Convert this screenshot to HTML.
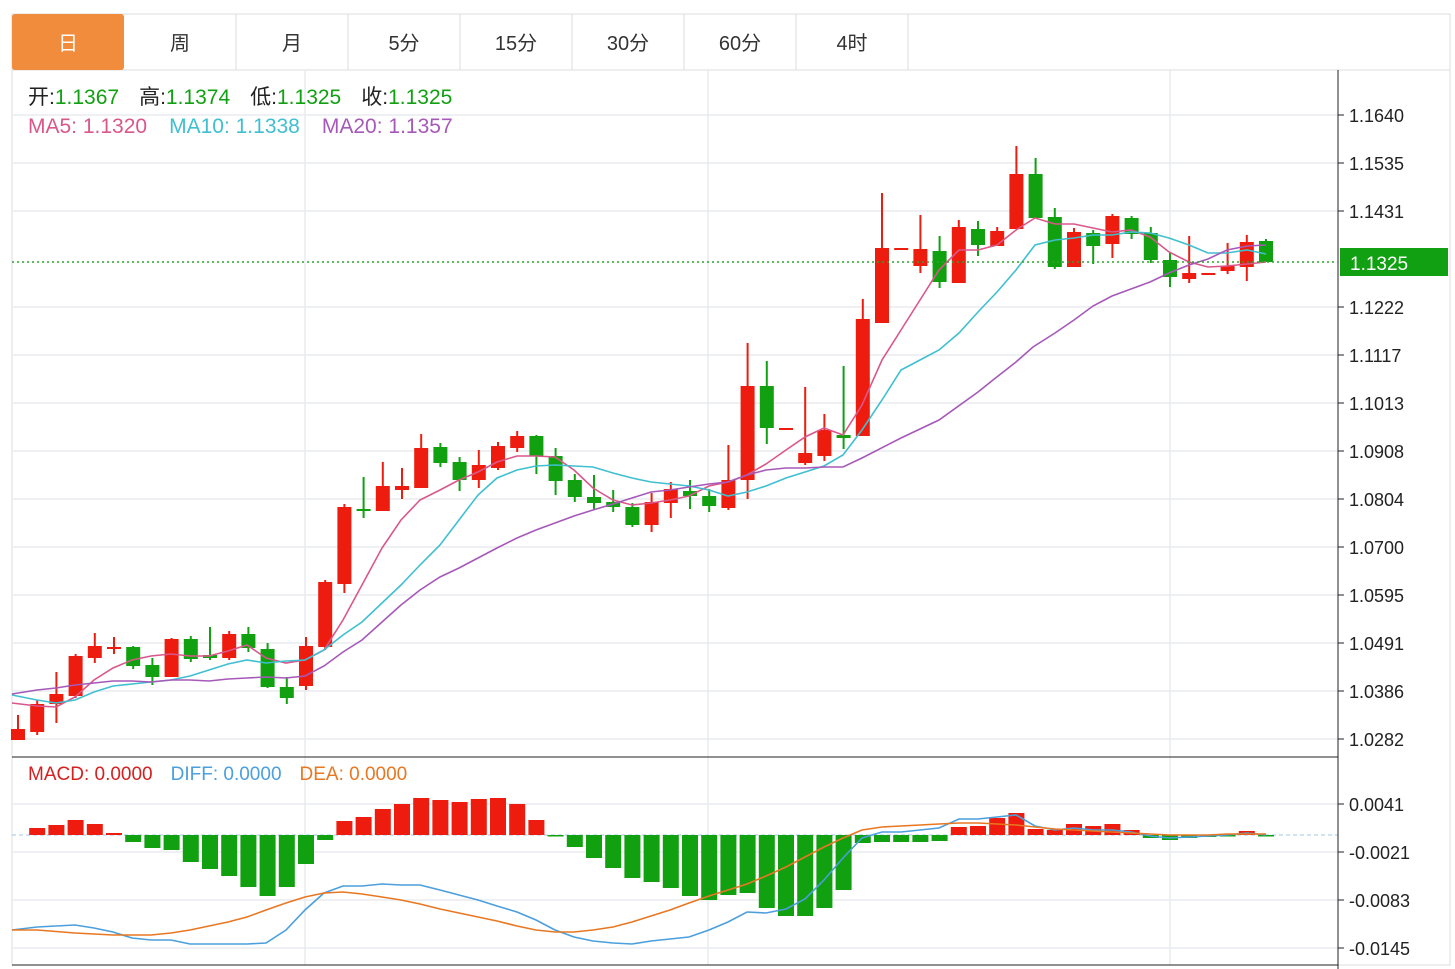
<!DOCTYPE html>
<html><head><meta charset="utf-8"><style>
html,body{margin:0;padding:0;background:#fff;}
body{width:1455px;height:969px;overflow:hidden;position:relative;font-family:"Liberation Sans","Noto Sans CJK SC",sans-serif;}
svg{position:absolute;left:0;top:0;}
</style></head><body>
<svg id="s" width="1455" height="969" xmlns="http://www.w3.org/2000/svg" font-family="Liberation Sans, Noto Sans CJK SC, sans-serif">
<rect x="12" y="14" width="1438" height="951" fill="#fff" stroke="#dcdcdc"/>
<line x1="12" y1="70" x2="1450" y2="70" stroke="#dcdcdc"/>
<rect x="12" y="14" width="112" height="56" rx="3" fill="#f08c3c"/>
<g stroke="#dcdcdc"><line x1="236" y1="14" x2="236" y2="70"/><line x1="348" y1="14" x2="348" y2="70"/><line x1="460" y1="14" x2="460" y2="70"/><line x1="572" y1="14" x2="572" y2="70"/><line x1="684" y1="14" x2="684" y2="70"/><line x1="796" y1="14" x2="796" y2="70"/><line x1="908" y1="14" x2="908" y2="70"/></g>
<g font-size="20" text-anchor="middle" fill="#333"><text x="68" y="50" fill="#fff">日</text><text x="180" y="50">周</text><text x="292" y="50">月</text><text x="404" y="50">5分</text><text x="516" y="50">15分</text><text x="628" y="50">30分</text><text x="740" y="50">60分</text><text x="852" y="50">4时</text></g>
<g id="grid" stroke="#e8ecf0" stroke-width="1.5"></g>
<g id="plot"></g>
<line x1="12" y1="757" x2="1338" y2="757" stroke="#222"/>
<line x1="12" y1="965" x2="1338" y2="965" stroke="#222"/>
<line x1="1338" y1="70" x2="1338" y2="969" stroke="#222"/>
<line x1="12" y1="262" x2="1338" y2="262" stroke="#2aa52a" stroke-width="1.5" stroke-dasharray="2,3"/>
<rect x="1340" y="248" width="108" height="28" fill="#11a011"/>
<text x="1350" y="270" font-size="19" fill="#fff">1.1325</text>
<g font-size="21"><text x="28" y="104"><tspan fill="#222">开:</tspan><tspan fill="#11a011">1.1367</tspan><tspan fill="#222" dx="20">高:</tspan><tspan fill="#11a011">1.1374</tspan><tspan fill="#222" dx="20">低:</tspan><tspan fill="#11a011">1.1325</tspan><tspan fill="#222" dx="20">收:</tspan><tspan fill="#11a011">1.1325</tspan></text>
<text x="28" y="133"><tspan fill="#d9578a">MA5:  1.1320</tspan><tspan fill="#3fbfd0" dx="22">MA10:  1.1338</tspan><tspan fill="#a659b8" dx="22">MA20:  1.1357</tspan></text>
<text x="28" y="780" font-size="19"><tspan fill="#d42020">MACD: 0.0000</tspan><tspan fill="#4a9fdc" dx="18">DIFF: 0.0000</tspan><tspan fill="#e87722" dx="18">DEA: 0.0000</tspan></text></g>
<g id="axis" font-size="18" fill="#222"></g>
</svg>
<script>
var ns="http://www.w3.org/2000/svg";
function el(p,t,a){var e=document.createElementNS(ns,t);for(var k in a)e.setAttribute(k,a[k]);document.getElementById(p).appendChild(e);return e;}
var py=[[115,"1.1640"],[163,"1.1535"],[211,"1.1431"],[307,"1.1222"],[355,"1.1117"],[403,"1.1013"],[451,"1.0908"],[499,"1.0804"],[547,"1.0700"],[595,"1.0595"],[643,"1.0491"],[691,"1.0386"],[739,"1.0282"]];
var my=[[804,"0.0041"],[852,"-0.0021"],[900,"-0.0083"],[948,"-0.0145"]];
py.concat(my).forEach(function(a){el("grid","line",{x1:12,y1:a[0],x2:1338,y2:a[0]});
 el("axis","line",{x1:1338,y1:a[0],x2:1344,y2:a[0],stroke:"#222"});
 var t=el("axis","text",{x:1349,y:a[0]+7});t.textContent=a[1];});
[305,708,1170].forEach(function(x){el("grid","line",{x1:x,y1:70,x2:x,y2:965});});
el("plot","line",{x1:12,y1:835,x2:1338,y2:835,stroke:"#9cc8e8","stroke-dasharray":"4,3"});
var C=[["R",729,740,715,740],["R",704,732,700,735],["R",694,704,672,723],["R",656,696,654,698],["R",646,658,633,663],["R",647,649,637,654],["G",647,666,646,669],["G",665,677,658,685],["R",639,677,638,677],["G",639,659,636,662],["G",655,658,627,660],["R",634,658,631,660],["G",634,648,627,652],["G",649,687,643,688],["G",687,698,677,704],["R",646,686,637,690],["R",582,647,580,650],["R",507,584,504,593],["G",509,511,477,518],["R",486,511,462,511],["R",486,490,468,499],["R",448,488,434,488],["G",447,463,443,467],["G",462,480,457,491],["R",465,480,450,488],["R",446,468,442,470],["R",436,448,431,452],["G",436,456,435,474],["G",456,481,448,495],["G",480,497,474,502],["G",497,503,475,510],["G",502,507,490,512],["G",507,525,503,527],["R",502,525,493,532],["R",489,503,482,518],["G",491,496,480,509],["G",496,506,489,512],["R",480,508,445,510],["R",386,480,343,499],["G",386,428,361,444],["R",428,430,428,430],["R",453,463,387,465],["R",430,456,414,461],["G",435,438,366,449],["R",319,436,299,436],["R",248,323,193,323],["R",248,250,248,250],["R",249,266,215,273],["G",251,282,236,288],["R",227,283,220,283],["G",229,245,221,256],["R",231,246,227,246],["R",174,229,146,229],["G",174,218,158,218],["G",217,267,208,269],["R",232,267,228,267],["G",233,246,230,264],["R",216,244,214,258],["G",218,234,216,239],["G",233,260,227,263],["G",260,277,253,287],["R",273,279,236,283],["R",273,275,273,275],["R",266,271,243,274],["R",242,267,235,281],["G",241,262,239,262]];
function X(i){return 18+19.2*i;}
C.forEach(function(c,i){var col=c[0]=="R"?"#ee1c0e":"#10a010",x=X(i);
 el("plot","line",{x1:x,y1:c[3],x2:x,y2:c[4],stroke:col,"stroke-width":2});
 el("plot","rect",{x:x-7,y:c[1],width:14,height:Math.max(2,c[2]-c[1]),fill:col});});
var M=[0,828,825,820,824,833,842,848,850,862,869,876,887,896,887,864,840,821,817,809,804,798,800,802,799,798,804,820,836,847,858,868,878,882,888,896,900,895,893,908,916,916,908,890,843,842,842,842,841,827,826,818,813,829,830,824,826,824,830,838,840,838,837,836,831,836];
M.forEach(function(v,i){if(!v)return;var x=X(i),up=v<835;
 el("plot","rect",{x:x-8,y:Math.min(v,835),width:16,height:Math.max(1.5,Math.abs(v-835)),fill:up?"#ee1c0e":"#10a010"});});
function line(pts,col){el("plot","polyline",{points:pts.map(function(p){return p.join(",")}).join(" "),fill:"none",stroke:col,"stroke-width":1.6});}
line([[12,703],[37,706],[56,707],[75,697],[94,680],[113,668],[132,660],[151,656],[171,654],[190,656],[209,656],[228,651],[247,645],[266,658],[286,663],[305,660],[324,650],[343,620],[362,585],[382,548],[401,520],[420,500],[440,490],[459,480],[478,472],[497,462],[517,456],[536,456],[555,457],[574,470],[593,488],[613,500],[632,505],[651,503],[670,500],[689,496],[709,486],[728,482],[747,475],[766,464],[786,450],[805,437],[824,428],[843,435],[862,405],[882,360],[901,330],[920,300],[939,270],[959,250],[978,250],[997,245],[1016,230],[1035,218],[1055,224],[1074,224],[1093,228],[1112,232],[1131,230],[1150,237],[1169,252],[1189,262],[1208,267],[1227,266],[1247,264],[1266,262]],"#d9578a");
line([[12,695],[37,700],[56,703],[75,700],[94,692],[113,686],[132,684],[151,682],[171,680],[190,676],[209,670],[228,664],[247,660],[266,663],[286,661],[305,660],[324,650],[343,635],[362,622],[382,603],[401,585],[420,565],[440,545],[459,520],[478,495],[497,478],[517,470],[536,466],[555,465],[574,466],[593,467],[613,473],[632,478],[651,482],[670,484],[689,486],[709,490],[728,496],[747,492],[766,486],[786,478],[805,472],[824,466],[843,455],[862,430],[882,400],[901,370],[920,360],[939,350],[959,333],[978,312],[997,292],[1016,270],[1035,245],[1055,240],[1074,238],[1093,235],[1112,235],[1131,232],[1150,233],[1169,238],[1189,245],[1208,253],[1227,253],[1247,250],[1266,254]],"#3fbfd0");
line([[12,694],[37,690],[56,688],[75,685],[94,683],[113,681],[132,681],[151,682],[171,680],[190,680],[209,681],[228,679],[247,678],[266,677],[286,678],[305,676],[324,666],[343,652],[362,640],[382,622],[401,605],[420,590],[440,577],[459,568],[478,558],[497,548],[517,538],[536,530],[555,523],[574,516],[593,510],[613,504],[632,498],[651,492],[670,490],[689,487],[709,484],[728,482],[747,475],[766,470],[786,468],[805,468],[824,467],[843,467],[862,458],[901,438],[939,420],[978,392],[993,380],[1016,362],[1033,347],[1055,333],[1074,320],[1093,306],[1112,296],[1131,289],[1150,282],[1169,273],[1189,265],[1208,259],[1227,250],[1247,246],[1266,245]],"#a659b8");
line([[12,930],[37,927],[75,925],[94,928],[113,932],[132,938],[151,940],[171,940],[190,944],[209,944],[228,944],[247,944],[266,943],[286,930],[305,910],[324,893],[343,886],[362,886],[382,884],[401,885],[420,885],[440,890],[459,895],[478,900],[497,906],[517,912],[536,920],[555,930],[574,937],[593,941],[613,943],[632,944],[651,941],[670,939],[689,937],[709,930],[728,922],[747,912],[766,913],[786,909],[805,899],[824,880],[843,858],[862,838],[882,832],[901,832],[920,830],[939,828],[959,819],[978,819],[997,817],[1016,815],[1035,826],[1055,830],[1074,828],[1093,830],[1112,830],[1131,832],[1150,836],[1169,838],[1189,837],[1208,836],[1227,835],[1247,833],[1266,835]],"#4a9fdc");
line([[12,930],[37,930],[75,933],[113,935],[151,935],[171,933],[190,930],[209,926],[228,922],[247,917],[266,910],[286,903],[305,897],[324,893],[343,892],[362,894],[382,897],[401,900],[420,904],[440,909],[459,913],[478,917],[497,921],[517,926],[536,930],[555,932],[574,932],[593,930],[613,927],[632,922],[651,916],[670,910],[689,903],[709,896],[728,890],[747,884],[766,876],[786,867],[805,857],[824,847],[843,838],[862,830],[882,827],[901,826],[920,825],[939,824],[959,823],[978,823],[997,824],[1016,825],[1035,827],[1055,829],[1074,830],[1093,831],[1112,832],[1131,833],[1150,834],[1169,835],[1208,835],[1227,834],[1266,834]],"#e87722");
</script>
</body></html>
